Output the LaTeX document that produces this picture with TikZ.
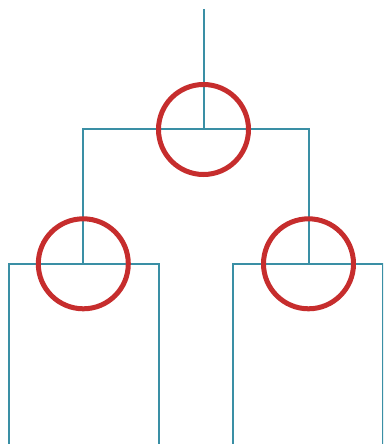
\documentclass[tikz,border=0pt]{standalone}
\begin{document}
\begin{tikzpicture}[x=1bp,y=-1bp,
  wire/.style={draw=teal1,line width=2bp},
  ring/.style={circle,draw=red1,line width=5bp,minimum size=90bp,inner sep=0pt}]
\definecolor{teal1}{HTML}{3A8FA5}
\definecolor{red1}{HTML}{C62D2D}
\useasboundingbox (0,0) rectangle (383,444);
\clip (0,0) rectangle (383,444);
\coordinate (top) at (203.5,9);
\coordinate (c0) at (203.5,129.3);
\coordinate (cl) at (83.3,129.3);
\coordinate (cr) at (308.5,129.3);
\coordinate (l) at (83.3,264.3);
\coordinate (r) at (308.5,264.3);
\coordinate (la) at (8.5,264.3);
\coordinate (lb) at (159,264.3);
\coordinate (ra) at (233.3,264.3);
\coordinate (rb) at (382.5,264.3);
\coordinate (lae) at (8.5,450);
\coordinate (lbe) at (159,450);
\coordinate (rae) at (233.3,450);
\coordinate (rbe) at (382.5,450);
\draw[wire] (top) -- (c0);
\draw[wire] (l) -- (cl) -- (cr) -- (r);
\draw[wire] (lae) -- (la) -- (lb) -- (lbe);
\draw[wire] (rae) -- (ra) -- (rb) -- (rbe);
\node[ring] (n0) at (203.5,129.5) {};
\node[ring] (n1) at (83.3,263.8) {};
\node[ring] (n2) at (308.5,263.8) {};
\end{tikzpicture}
\end{document}
